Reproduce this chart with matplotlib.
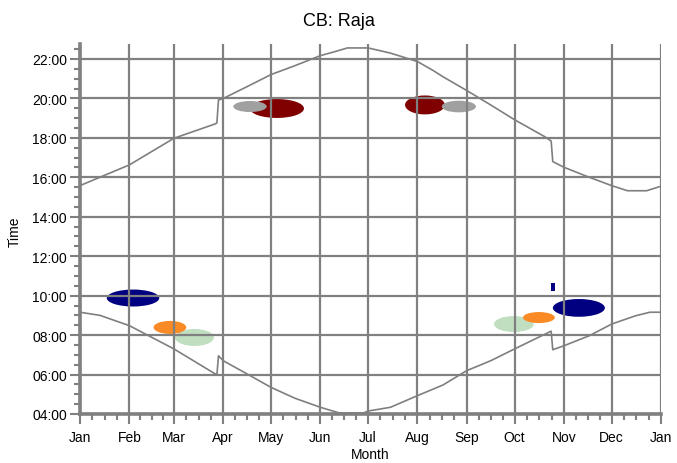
import numpy as np
import matplotlib as mpl
import matplotlib.pyplot as plt
from matplotlib.patches import Ellipse

plt.rcParams['font.family'] = ['Liberation Sans', 'DejaVu Sans']

# month boundaries (day of year) and labels
month_days = [0, 31, 59, 90, 120, 151, 181, 212, 243, 273, 304, 334, 365]
month_labels = ['Jan', 'Feb', 'Mar', 'Apr', 'May', 'Jun', 'Jul',
                'Aug', 'Sep', 'Oct', 'Nov', 'Dec', 'Jan']

# upper grey curve (evening), hours
upper_day = [0, 31, 59, 85, 86, 87, 90, 105, 120, 135, 151, 160, 168,
             181, 195, 212, 222, 228, 243, 258, 273, 292, 296, 297, 304,
             320, 334, 344, 356, 365]
upper_hour = [15.58, 16.63, 17.98, 18.71, 18.76, 19.92, 20.0, 20.6, 21.21,
              21.66, 22.17, 22.37, 22.56, 22.56, 22.3, 21.87, 21.41, 21.1,
              20.4, 19.67, 18.92, 18.06, 17.84, 16.8, 16.51, 16.0, 15.58,
              15.32, 15.32, 15.55]

# lower grey curve (morning), hours
lower_day = [0, 12.6, 31, 59, 85, 86, 87, 90, 105, 120, 135, 151, 163,
             178, 181, 195, 212, 228, 243, 258, 273, 296, 297, 304, 320,
             334, 349, 358, 365]
lower_hour = [9.16, 9.0, 8.48, 7.3, 6.03, 5.98, 6.95, 6.7, 6.03, 5.35,
              4.8, 4.34, 4.05, 4.05, 4.15, 4.34, 4.93, 5.47, 6.2, 6.7,
              7.3, 8.2, 7.26, 7.46, 7.97, 8.56, 8.98, 9.16, 9.16]

# observation clusters: centre day, centre hour, spread in days / hours
blob_day = [33.3, 71.9, 56.5, 123.7, 106.8, 216.7, 238.0, 272.6, 288.3,
            313.4, 297.0]
blob_hour = [9.88, 7.88, 8.39, 19.49, 19.59, 19.67, 19.59, 8.56, 8.89,
             9.38, 10.44]
blob_wdays = [33, 24.5, 20.5, 34, 21, 25, 21.5, 25, 20, 32.7, 2.5]
blob_hhours = [0.86, 0.86, 0.66, 0.96, 0.56, 0.96, 0.59, 0.81, 0.56, 0.9,
               0.44]
blob_colors = ['#000080', '#c0dec0', '#f98a25', '#800000', '#a0a0a0',
               '#800000', '#a0a0a0', '#c0dec0', '#f98a25', '#000080',
               '#000080']

grey = '#808080'

fig = plt.figure(figsize=(6.77, 4.64), dpi=100)
ax = fig.add_axes([80 / 677, 1 - 415 / 464, 581 / 677, 370 / 464])

for d, h, w, hh, c in zip(blob_day, blob_hour, blob_wdays, blob_hhours,
                          blob_colors):
    if w < 5:
        ax.add_patch(mpl.patches.Rectangle((d - w / 2, h - hh / 2), w, hh,
                                           color=c, lw=0, zorder=1))
    else:
        ax.add_patch(Ellipse((d, h), w, hh, color=c, lw=0, zorder=1))

ax.plot(upper_day, upper_hour, color='#7f7f7f', lw=1.2, zorder=3)
ax.plot(lower_day, lower_hour, color='#7f7f7f', lw=1.2, zorder=3)

ax.set_xlim(0, 365)
ax.set_ylim(4, 22.76)

ax.set_xticks(month_days)
ax.set_xticklabels(month_labels)
minor_x = []
for a, b in zip(month_days[:-1], month_days[1:]):
    minor_x += [a + (b - a) * k / 4 for k in (1, 2, 3)]
ax.set_xticks(minor_x, minor=True)

ax.set_yticks(np.arange(4, 23, 2))
ax.set_yticklabels([f'{h:02d}:00' for h in range(4, 23, 2)])
ax.set_yticks(np.arange(4, 23, 0.5), minor=True)

ax.set_axisbelow(False)
ax.grid(True, which='major', color=grey, lw=1.6, zorder=2)

for side in ('top', 'right'):
    ax.spines[side].set_visible(False)
for side in ('left', 'bottom'):
    ax.spines[side].set_color(grey)
    ax.spines[side].set_linewidth(2.6)

ax.tick_params(which='major', length=7.5, width=1.5, color=grey,
               labelsize=10, pad=2)
ax.tick_params(which='minor', length=4.5, width=1.5, color=grey)
ax.tick_params(axis='x', which='major', pad=4)

fig.text(0.5, 1 - 22 / 464, 'CB: Raja', ha='center', va='center',
         fontsize=13)
fig.text(15 / 677, 1 - 232 / 464, 'Time', rotation=90, ha='center',
         va='center', fontsize=10)
fig.text(370 / 677, 1 - 455 / 464, 'Month', ha='center', va='center',
         fontsize=10)

fig.savefig('out.png', dpi=100)
